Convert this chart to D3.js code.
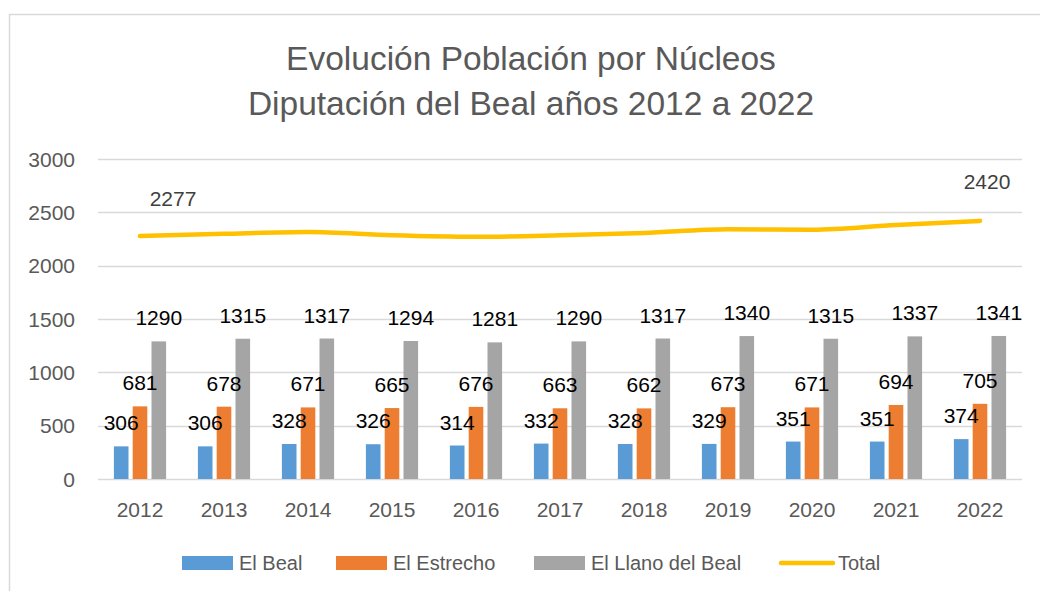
<!DOCTYPE html>
<html>
<head>
<meta charset="utf-8">
<script src="https://cdn.jsdelivr.net/npm/d3@7.9.0/dist/d3.min.js"></script>
<style>
  html, body { margin: 0; padding: 0; background: #fff; }
  svg { display: block; font-family: "Liberation Sans", Arial, sans-serif; }
</style>
</head>
<body>
<svg id="chart" width="1040" height="591"></svg>
<script>
// data
const years = ['2012', '2013', '2014', '2015', '2016', '2017', '2018', '2019', '2020', '2021', '2022'];
const elBeal = [306, 306, 328, 326, 314, 332, 328, 329, 351, 351, 374];
const elEstrecho = [681, 678, 671, 665, 676, 663, 662, 673, 671, 694, 705];
const elLlano = [1290, 1315, 1317, 1294, 1281, 1290, 1317, 1340, 1315, 1337, 1341];
const total = [2277, 2299, 2316, 2285, 2271, 2285, 2307, 2342, 2337, 2382, 2420];
const yTicks = [0, 500, 1000, 1500, 2000, 2500, 3000];
const seriesNames = ['El Beal', 'El Estrecho', 'El Llano del Beal', 'Total'];
const titleLines = ['Evolución Población por Núcleos', 'Diputación del Beal años 2012 a 2022'];

const colors = ['#5B9BD5', '#ED7D31', '#A5A5A5', '#FFC000'];
const barSeries = [elBeal, elEstrecho, elLlano];

const svg = d3.select('#chart');

// chart frame
svg.append('rect')
  .attr('x', 9.5).attr('y', 14.5)
  .attr('width', 1100).attr('height', 700)
  .attr('fill', '#fff')
  .attr('stroke', '#D9D9D9')
  .attr('stroke-width', 1.5);

// title
svg.append('g').selectAll('text')
  .data(titleLines)
  .join('text')
  .attr('x', 531)
  .attr('y', (d, i) => 70 + i * 45)
  .attr('text-anchor', 'middle')
  .attr('font-size', 33.5)
  .attr('fill', '#595959')
  .text(d => d);

const x = d3.scaleBand().domain(years).range([98, 1022]);
const y = d3.scaleLinear().domain([0, 3000]).range([479, 159]);

// gridlines
svg.append('g').selectAll('line')
  .data(yTicks)
  .join('line')
  .attr('x1', 98).attr('x2', 1022)
  .attr('y1', d => Math.round(y(d)) + 0.5)
  .attr('y2', d => Math.round(y(d)) + 0.5)
  .attr('stroke', '#D9D9D9')
  .attr('stroke-width', 1.5);

// y axis labels
svg.append('g').selectAll('text')
  .data(yTicks)
  .join('text')
  .attr('x', 75)
  .attr('y', d => y(d))
  .attr('dy', '0.36em')
  .attr('text-anchor', 'end')
  .attr('font-size', 21)
  .attr('fill', '#595959')
  .text(d => d);

// x axis labels
svg.append('g').selectAll('text')
  .data(years)
  .join('text')
  .attr('x', d => x(d) + x.bandwidth() / 2)
  .attr('y', 516.5)
  .attr('text-anchor', 'middle')
  .attr('font-size', 21)
  .attr('fill', '#595959')
  .text(d => d);

// bars (all bars first, labels on top afterwards)
const barW = 14.6, step = 18.8;
const barCx = (s, i) => x(years[i]) + x.bandwidth() / 2 + (s - 1) * step;

barSeries.forEach((vals, s) => {
  svg.append('g').selectAll('rect')
    .data(vals)
    .join('rect')
    .attr('x', (d, i) => barCx(s, i) - barW / 2)
    .attr('y', d => y(d))
    .attr('width', barW)
    .attr('height', d => y(0) - y(d))
    .attr('fill', colors[s]);
});

barSeries.forEach((vals, s) => {
  svg.append('g').selectAll('text')
    .data(vals)
    .join('text')
    .attr('x', (d, i) => barCx(s, i))
    .attr('y', d => y(d) - 16)
    .attr('text-anchor', 'middle')
    .attr('font-size', 21)
    .attr('fill', '#000')
    .text(d => d);
});

// total line
const line = d3.line()
  .x((d, i) => x(years[i]) + x.bandwidth() / 2)
  .y(d => y(d))
  .curve(d3.curveMonotoneX);

svg.append('path')
  .datum(total)
  .attr('d', line)
  .attr('fill', 'none')
  .attr('stroke', colors[3])
  .attr('stroke-width', 4.5)
  .attr('stroke-linecap', 'round')
  .attr('stroke-linejoin', 'round');

// only first and last totals are labelled, moved by hand in the original
const totalLabels = [
  { i: 0, dx: 33, dy: -30 },
  { i: total.length - 1, dx: 7, dy: -32 }
];
svg.append('g').selectAll('text')
  .data(totalLabels)
  .join('text')
  .attr('x', d => x(years[d.i]) + x.bandwidth() / 2 + d.dx)
  .attr('y', d => y(total[d.i]) + d.dy)
  .attr('text-anchor', 'middle')
  .attr('font-size', 21)
  .attr('fill', '#404040')
  .text(d => total[d.i]);

// legend
const legendX = [182, 336, 534, 779];
const legend = svg.append('g').selectAll('g')
  .data(seriesNames)
  .join('g')
  .attr('transform', (d, i) => `translate(${legendX[i]},563)`);

legend.each(function(d, i) {
  const g = d3.select(this);
  if (i < 3) {
    g.append('rect')
      .attr('x', 0).attr('y', -7)
      .attr('width', 51).attr('height', 14)
      .attr('fill', colors[i]);
  } else {
    g.append('line')
      .attr('x1', 2).attr('x2', 54)
      .attr('y1', 0).attr('y2', 0)
      .attr('stroke', colors[i])
      .attr('stroke-width', 4.5)
      .attr('stroke-linecap', 'round');
  }
  g.append('text')
    .attr('x', i < 3 ? 57 : 59)
    .attr('y', 0)
    .attr('dy', '0.36em')
    .attr('font-size', 20)
    .attr('fill', '#595959')
    .text(d);
});
</script>
</body>
</html>
